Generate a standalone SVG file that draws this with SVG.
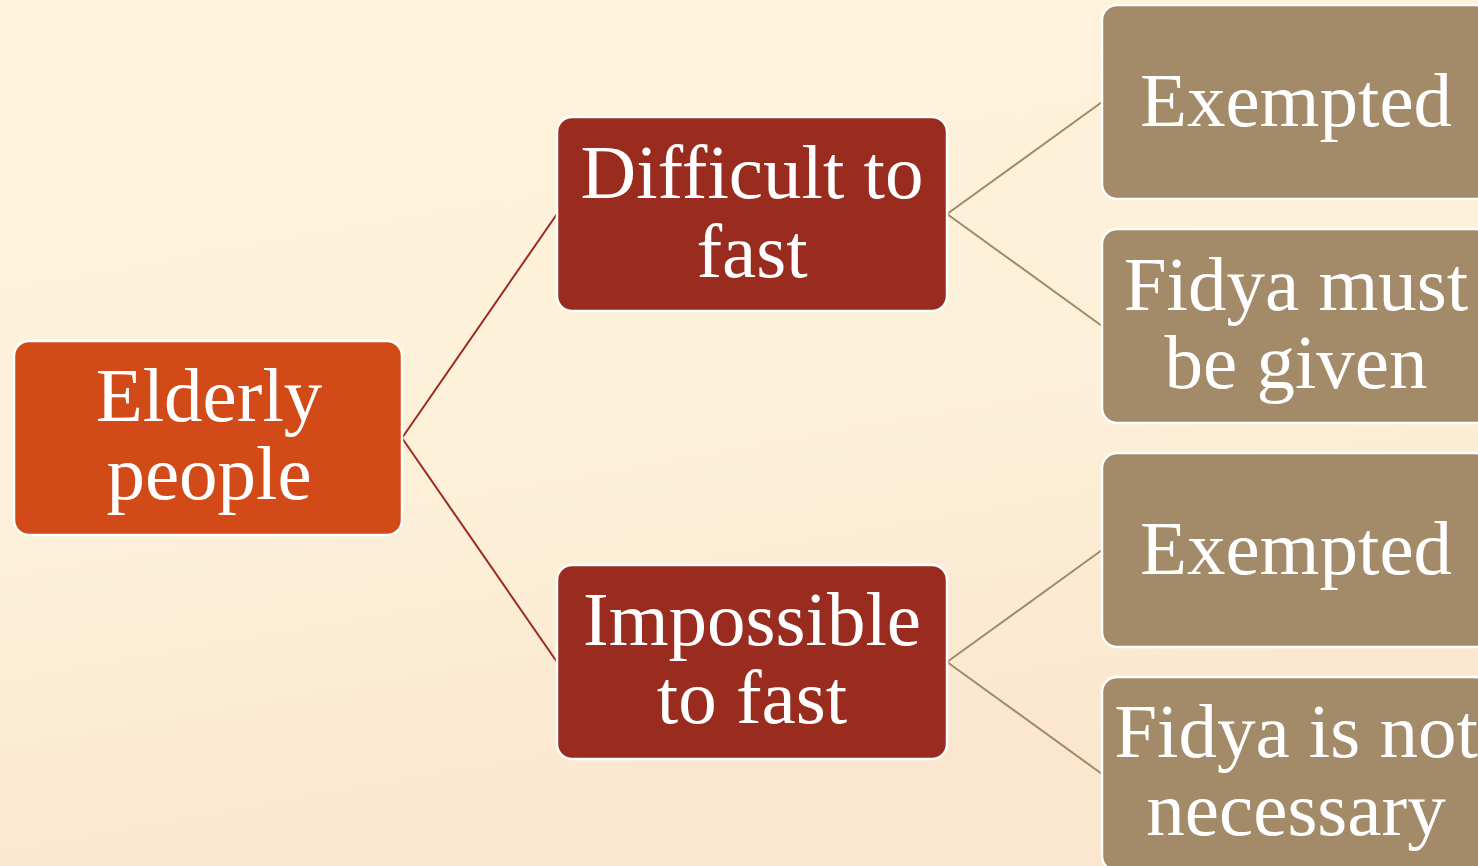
<svg xmlns="http://www.w3.org/2000/svg" width="1478" height="866" viewBox="0 0 1478 866">
  <defs>
    <linearGradient id="bg" x1="0" y1="0" x2="0.3" y2="1">
      <stop offset="0" stop-color="#FEF3DB"/>
      <stop offset="0.6" stop-color="#FDF0D8"/>
      <stop offset="1" stop-color="#FBE6CF"/>
    </linearGradient>
  </defs>
  <style>
    .box { stroke: #FFFFFF; stroke-width: 2.5; }
    .root { fill: #D24A17; }
    .mid { fill: #9A2C1F; }
    .leaf { fill: #A38B69; }
    .lbl { font-family: "Liberation Serif", "Times New Roman", serif; font-size: 77px; fill: #FFFFFF; text-anchor: middle; }
    .c1 { stroke: #9A2C1F; stroke-width: 2; fill: none; }
    .c2 { stroke: #A08A68; stroke-width: 2; fill: none; }
  </style>
  <rect width="1478" height="866" fill="url(#bg)"/>

  <g id="connectors">
    <path class="c1" d="M402 438 L557 214 M402 438 L557 662"/>
    <path class="c2" d="M947 214 L1102 102 M947 214 L1102 326"/>
    <path class="c2" d="M947 662 L1102 550 M947 662 L1102 774"/>
  </g>

  <g id="elderly">
    <rect class="box root" x="14" y="341" width="388" height="194" rx="15"/>
    <text class="lbl" x="209" y="421">Elderly</text>
    <text class="lbl" x="209" y="499">people</text>
  </g>

  <g id="difficult">
    <rect class="box mid" x="557" y="117" width="390" height="194" rx="15"/>
    <text class="lbl" x="752" y="198">Difficult to</text>
    <text class="lbl" x="752" y="277">fast</text>
  </g>

  <g id="impossible">
    <rect class="box mid" x="557" y="565" width="390" height="194" rx="15"/>
    <text class="lbl" x="752" y="645">Impossible</text>
    <text class="lbl" x="752" y="723">to fast</text>
  </g>

  <g id="exempted-1">
    <rect class="box leaf" x="1102" y="5" width="388" height="194" rx="15"/>
    <text class="lbl" x="1296" y="126">Exempted</text>
  </g>

  <g id="fidya-must">
    <rect class="box leaf" x="1102" y="229" width="388" height="194" rx="15"/>
    <text class="lbl" x="1296" y="310">Fidya must</text>
    <text class="lbl" x="1296" y="388">be given</text>
  </g>

  <g id="exempted-2">
    <rect class="box leaf" x="1102" y="453" width="388" height="194" rx="15"/>
    <text class="lbl" x="1296" y="574">Exempted</text>
  </g>

  <g id="fidya-not">
    <rect class="box leaf" x="1102" y="677" width="388" height="194" rx="15"/>
    <text class="lbl" x="1296" y="757">Fidya is not</text>
    <text class="lbl" x="1296" y="835">necessary</text>
  </g>
</svg>
